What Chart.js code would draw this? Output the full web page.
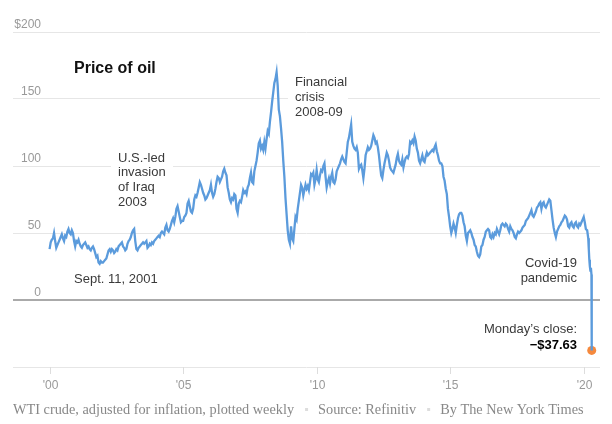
<!DOCTYPE html>
<html>
<head>
<meta charset="utf-8">
<script src="https://cdn.jsdelivr.net/npm/chart.js@4.4.1/dist/chart.umd.min.js"></script>
<style>
  html, body { margin: 0; padding: 0; background: #fff; }
</style>
</head>
<body>
<canvas id="oil" width="612" height="424"></canvas>
<script>
const startYear = 2000;
const pointsPerYear = 24;
const prices = [
  38, 43, 45, 46, 50, 44, 39, 41, 43, 45, 47, 49, 46, 44, 48, 47, 51, 53, 50, 49, 52, 50, 44, 40, // 2000
  44, 43, 45, 42, 40, 39, 41, 42, 43, 41, 39, 40, 38, 37, 39, 40, 38, 35, 32, 33, 28, 27, 29, 28, // 2001
  28, 29, 30, 31, 34, 37, 38, 36, 38, 37, 35, 36, 38, 37, 40, 41, 42, 43, 40, 39, 37, 38, 42, 44, // 2002
  45, 47, 50, 52, 53, 44, 38, 37, 39, 40, 41, 42, 43, 42, 43, 44, 39, 40, 42, 41, 43, 42, 44, 45, // 2003
  46, 47, 48, 47, 50, 51, 50, 49, 54, 56, 52, 51, 53, 56, 59, 61, 58, 62, 68, 70, 66, 62, 58, 59, // 2004
  59, 62, 63, 65, 72, 74, 70, 66, 65, 68, 75, 78, 77, 80, 84, 88, 86, 83, 80, 78, 75, 76, 78, 80, // 2005
  82, 86, 80, 77, 79, 83, 88, 92, 91, 88, 90, 92, 96, 98, 95, 93, 84, 80, 75, 73, 76, 75, 79, 78, // 2006
  68, 65, 72, 74, 73, 77, 82, 80, 81, 79, 84, 86, 91, 95, 88, 87, 96, 100, 104, 110, 117, 119, 113, 115, // 2007
  112, 118, 113, 120, 126, 124, 133, 140, 148, 155, 162, 165, 170, 160, 142, 137, 128, 118, 104, 92, 76, 64, 52, 45, // 2008
  42, 55, 46, 44, 53, 62, 60, 68, 74, 80, 86, 84, 78, 82, 86, 83, 85, 82, 88, 94, 93, 95, 86, 90, // 2009
  97, 90, 88, 93, 97, 96, 100, 102, 92, 84, 88, 91, 87, 92, 95, 88, 87, 90, 96, 98, 100, 102, 105, 107, // 2010
  105, 103, 102, 110, 118, 121, 126, 131, 118, 115, 113, 112, 114, 110, 98, 100, 101, 97, 91, 98, 108, 111, 114, 112, // 2011
  113, 115, 119, 123, 121, 117, 118, 114, 108, 100, 93, 91, 97, 102, 106, 110, 108, 104, 99, 97, 96, 95, 98, 101, // 2012
  106, 109, 104, 102, 101, 105, 99, 103, 106, 107, 106, 109, 118, 117, 119, 117, 122, 119, 113, 110, 104, 102, 105, 108, // 2013
  104, 103, 107, 110, 108, 109, 110, 111, 112, 111, 114, 116, 111, 108, 104, 102, 102, 100, 92, 89, 83, 79, 68, 62, // 2014
  55, 50, 53, 57, 54, 50, 56, 61, 64, 65, 65, 63, 58, 55, 48, 44, 50, 51, 52, 50, 47, 45, 41, 40, // 2015
  36, 33, 32, 34, 40, 41, 45, 47, 51, 52, 53, 52, 47, 46, 49, 47, 50, 49, 53, 51, 49, 52, 56, 57, // 2016
  56, 55, 57, 56, 53, 51, 55, 53, 52, 50, 47, 46, 49, 51, 50, 51, 52, 54, 55, 56, 59, 60, 61, 63, // 2017
  65, 67, 63, 62, 64, 66, 69, 70, 72, 73, 68, 72, 73, 70, 69, 71, 73, 75, 74, 67, 60, 54, 50, 47, // 2018
  51, 53, 55, 56, 58, 59, 61, 63, 62, 60, 55, 54, 57, 58, 55, 54, 57, 58, 55, 54, 57, 56, 58, 60  // 2019
];
// 2020, weekly as the crash comes
const dates2020 = [2020.0, 2020.04, 2020.08, 2020.13, 2020.17, 2020.19, 2020.21, 2020.23, 2020.25, 2020.27, 2020.29];
const prices2020 = [62, 58, 53, 52, 46, 38, 30, 25, 22, 24, 19];
const closeDate = 2020.30;
const closePrice = -37.63;

const xTickYears = [2000, 2005, 2010, 2015, 2020];
const xTickLabels = ["'00", "'05", "'10", "'15", "'20"];
const yTickValues = [0, 50, 100, 150, 200];
const yTickLabels = ["0", "50", "100", "150", "$200"];

const sans = '"Liberation Sans", Arial, sans-serif';
const serif = '"Liberation Serif", Georgia, serif';

const linePoints = prices.map((p, i) => ({ x: startYear + i / pointsPerYear, y: p }))
  .concat(dates2020.map((d, i) => ({ x: d, y: prices2020[i] })))
  .concat([{ x: closeDate, y: closePrice }]);

function lines(ctx, list, x, y, step) {
  list.forEach((t, i) => ctx.fillText(t, x, y + i * step));
}

const decor = {
  id: 'decor',
  beforeDatasetsDraw(chart) {
    // blank the gridlines behind the two notes
    const ctx = chart.ctx;
    ctx.save();
    ctx.fillStyle = '#fff';
    ctx.fillRect(111, 150, 62, 60);
    ctx.fillRect(288, 74, 60, 46);
    ctx.restore();
  },
  afterDraw(chart) {
    const ctx = chart.ctx;
    const xs = chart.scales.x;
    const ys = chart.scales.y;
    const area = chart.chartArea;
    ctx.save();

    // y labels sit above their gridlines
    ctx.font = '12px ' + sans;
    ctx.fillStyle = '#999';
    ctx.textAlign = 'right';
    ctx.textBaseline = 'middle';
    yTickValues.forEach((v, i) => {
      ctx.fillText(yTickLabels[i], 41, ys.getPixelForValue(v) - 7);
    });

    // x ticks
    ctx.textAlign = 'center';
    ctx.strokeStyle = '#ddd';
    ctx.lineWidth = 1;
    xTickYears.forEach((yr, i) => {
      const px = Math.round(xs.getPixelForValue(yr)) + 0.5;
      ctx.beginPath();
      ctx.moveTo(px, area.bottom);
      ctx.lineTo(px, area.bottom + 7);
      ctx.stroke();
      ctx.fillText(xTickLabels[i], px, 386);
    });

    // title
    ctx.textAlign = 'left';
    ctx.fillStyle = '#111';
    ctx.font = 'bold 16px ' + sans;
    ctx.fillText('Price of oil', 74, 69);

    // notes
    ctx.font = '13px ' + sans;
    ctx.fillStyle = '#3a3a3a';
    lines(ctx, ['U.S.-led', 'invasion', 'of Iraq', '2003'], 118, 158, 14.7);
    lines(ctx, ['Financial', 'crisis', '2008-09'], 295, 82, 15);
    ctx.fillText('Sept. 11, 2001', 74, 279);
    ctx.textAlign = 'right';
    lines(ctx, ['Covid-19', 'pandemic'], 577, 263, 15);
    ctx.fillText('Monday\u2019s close:', 577, 329);
    ctx.fillStyle = '#000';
    ctx.font = 'bold 13px ' + sans;
    ctx.fillText('\u2212$37.63', 577, 345);

    // footer
    ctx.textAlign = 'left';
    ctx.font = '14.3px ' + serif;
    const parts = ['WTI crude, adjusted for inflation, plotted weekly', 'Source: Refinitiv', 'By The New York Times'];
    let fx = 13;
    parts.forEach((t, i) => {
      if (i > 0) {
        ctx.fillStyle = '#ddd';
        ctx.fillRect(fx + 11, 408, 3, 3);
        fx += 24;
      }
      ctx.fillStyle = '#888';
      ctx.fillText(t, fx, 410);
      fx += ctx.measureText(t).width;
    });
    ctx.restore();
  }
};

new Chart(document.getElementById('oil'), {
  type: 'line',
  data: {
    datasets: [
      {
        data: linePoints,
        borderColor: '#5b9bdc',
        borderWidth: 2.3,
        pointRadius: 0,
        tension: 0,
        fill: false
      },
      {
        data: [{ x: closeDate, y: closePrice }],
        showLine: false,
        pointRadius: 4.5,
        pointBackgroundColor: '#f5893d',
        pointBorderWidth: 0
      }
    ]
  },
  options: {
    responsive: false,
    animation: false,
    devicePixelRatio: 1,
    layout: { padding: { left: 13, right: 12, top: 32, bottom: 57 } },
    plugins: { legend: { display: false }, tooltip: { enabled: false } },
    scales: {
      x: {
        type: 'linear',
        min: 1998.63,
        max: 2020.61,
        grid: { display: false },
        border: { display: false },
        ticks: { display: false },
        afterFit(scale) { scale.height = 0; }
      },
      y: {
        min: -50,
        max: 200,
        ticks: { display: false, stepSize: 50 },
        border: { display: false },
        grid: {
          drawTicks: false,
          color: ctx => ctx.tick && ctx.tick.value === 0 ? '#aaa' : '#e6e6e6',
          lineWidth: ctx => ctx.tick && ctx.tick.value === 0 ? 2 : 1
        },
        afterFit(scale) { scale.width = 0; }
      }
    }
  },
  plugins: [decor]
});
</script>
</body>
</html>
